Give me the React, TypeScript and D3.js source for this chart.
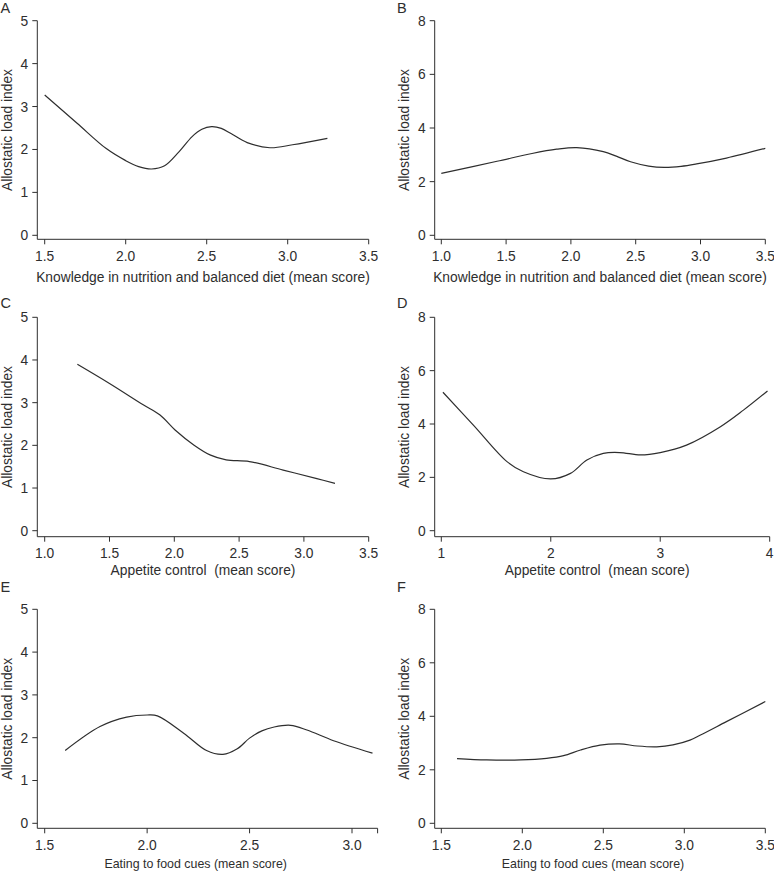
import React from "react";
import * as d3 from "d3";

// ---------- data ----------
const aX = [1.5, 1.7, 1.88, 2.0, 2.08, 2.16, 2.24, 2.33, 2.41, 2.47, 2.53, 2.59, 2.65, 2.75, 2.89, 3.03, 3.245];
const aY = [3.27, 2.61, 2.02, 1.74, 1.6, 1.545, 1.62, 1.95, 2.3, 2.47, 2.53, 2.49, 2.37, 2.16, 2.04, 2.11, 2.26];

const bX = [1.0, 1.43, 1.7, 1.89, 2.045, 2.25, 2.35, 2.46, 2.6, 2.72, 2.85, 2.97, 3.2, 3.5];
const bY = [2.31, 2.76, 3.05, 3.21, 3.27, 3.12, 2.95, 2.74, 2.58, 2.53, 2.57, 2.66, 2.88, 3.24];

const cX = [1.252, 1.5, 1.76, 1.89, 2.006, 2.15, 2.28, 2.4, 2.58, 2.84, 3.1, 3.24];
const cY = [3.9, 3.45, 2.95, 2.71, 2.36, 2.01, 1.77, 1.66, 1.62, 1.42, 1.22, 1.11];

const dX = [1.015, 1.295, 1.6, 1.75, 2.0, 2.18, 2.33, 2.48, 2.63, 2.82, 3.0, 3.24, 3.55, 3.76, 3.98];
const dY = [5.19, 3.95, 2.59, 2.21, 1.94, 2.15, 2.65, 2.9, 2.93, 2.84, 2.93, 3.21, 3.9, 4.52, 5.24];

const eX = [1.6, 1.77, 1.9, 2.0, 2.05, 2.18, 2.29, 2.37, 2.44, 2.5, 2.56, 2.62, 2.7, 2.78, 2.91, 3.1];
const eY = [1.7, 2.26, 2.48, 2.53, 2.51, 2.1, 1.7, 1.61, 1.74, 1.99, 2.16, 2.25, 2.29, 2.18, 1.93, 1.64];

const fX = [1.597, 1.78, 1.99, 2.15, 2.255, 2.36, 2.48, 2.6, 2.71, 2.83, 2.93, 3.035, 3.1, 3.26, 3.5];
const fY = [2.42, 2.37, 2.37, 2.43, 2.53, 2.74, 2.92, 2.97, 2.89, 2.86, 2.93, 3.11, 3.3, 3.8, 4.55];

const xTicksHalf = [1.5, 2.0, 2.5, 3.0, 3.5];
const xTicksOne = [1.0, 1.5, 2.0, 2.5, 3.0, 3.5];
const xTicksInt = [1, 2, 3, 4];
const xTicksE = [1.5, 2.0, 2.5, 3.0];
const yTicks5 = [0, 1, 2, 3, 4, 5];
const yTicks8 = [0, 2, 4, 6, 8];

const titleKnowledge = "Knowledge in nutrition and balanced diet (mean score)";
const titleAppetite = "Appetite control  (mean score)";
const titleCues = "Eating to food cues (mean score)";
const yTitle = "Allostatic load index";

// ---------- layout ----------
const W = 774;
const H = 871;
const FONT = "'Liberation Sans', Arial, Helvetica, sans-serif";
const INK = "#2e2e2e";
const FS = 13.8;

const cols = [
  { axisX: 37.3, x0: 44.7, x1: 368.7, letterX: 0.5 },
  { axisX: 434.7, x0: 441.3, x1: 765.3, letterX: 397 },
];
const rows = [
  { yTop: 20.7, yZero: 235.3, axisY: 239.3, titleOff: 42.3, letterY: 13.2 },
  { yTop: 317.3, yZero: 530.7, axisY: 536.7, titleOff: 38.5, letterY: 308.3 },
  { yTop: 609.3, yZero: 823.3, axisY: 828.3, titleOff: 40, letterY: 592 },
];

type Panel = {
  letter: string;
  row: number;
  col: number;
  xs: number[];
  ys: number[];
  xDomain: [number, number];
  xEndPx?: number;
  axisEnd?: number;
  xTicks: number[];
  fmt: (v: number) => string;
  yMax: number;
  yTicks: number[];
  xTitle: string;
  titleFs?: number;
  titleShift?: number;
};

const f1 = d3.format(".1f");
const f0 = d3.format("d");

const panels: Panel[] = [
  { letter: "A", row: 0, col: 0, xs: aX, ys: aY, xDomain: [1.5, 3.5], xTicks: xTicksHalf, fmt: f1, yMax: 5, yTicks: yTicks5, xTitle: titleKnowledge },
  { letter: "B", row: 0, col: 1, xs: bX, ys: bY, xDomain: [1.0, 3.5], xTicks: xTicksOne, fmt: f1, yMax: 8, yTicks: yTicks8, xTitle: titleKnowledge },
  { letter: "C", row: 1, col: 0, xs: cX, ys: cY, xDomain: [1.0, 3.5], xTicks: xTicksOne, fmt: f1, yMax: 5, yTicks: yTicks5, xTitle: titleAppetite },
  { letter: "D", row: 1, col: 1, xs: dX, ys: dY, xDomain: [1, 4], xEndPx: 769.7, xTicks: xTicksInt, fmt: f0, yMax: 8, yTicks: yTicks8, xTitle: titleAppetite, titleShift: -5 },
  { letter: "E", row: 2, col: 0, xs: eX, ys: eY, xDomain: [1.5, 3.0], xEndPx: 352, axisEnd: 3.125, xTicks: xTicksE, fmt: f1, yMax: 5, yTicks: yTicks5, xTitle: titleCues, titleFs: 12.4, titleShift: 1 },
  { letter: "F", row: 2, col: 1, xs: fX, ys: fY, xDomain: [1.5, 3.5], xTicks: xTicksHalf, fmt: f1, yMax: 8, yTicks: yTicks8, xTitle: titleCues, titleFs: 12.4, titleShift: -7 },
];

function PanelView({ p }: { p: Panel }) {
  const c = cols[p.col];
  const r = rows[p.row];
  const x = d3.scaleLinear().domain(p.xDomain).range([c.x0, p.xEndPx ?? c.x1]);
  const y = d3.scaleLinear().domain([0, p.yMax]).range([r.yZero, r.yTop]);
  const pts = p.xs.map((v, i) => [v, p.ys[i]] as [number, number]);
  const line = d3
    .line<[number, number]>()
    .x((d) => x(d[0]))
    .y((d) => y(d[1]))
    .curve(d3.curveCatmullRom.alpha(0.5));
  const axisEndPx = p.axisEnd !== undefined ? x(p.axisEnd) : x(p.xDomain[1]);
  const extraTicks = p.axisEnd !== undefined ? [p.axisEnd] : [];
  const lastTickPx = x(p.xTicks[p.xTicks.length - 1]);
  const titleX = (c.axisX + lastTickPx) / 2 + (p.titleShift ?? 0);
  const yMid = (y(p.yMax) + r.axisY) / 2;
  return (
    <g>
      <text x={c.letterX} y={r.letterY} fontSize={14.5} fill={INK} fontFamily={FONT}>
        {p.letter}
      </text>
      {/* y axis */}
      <line x1={c.axisX} x2={c.axisX} y1={y(p.yMax)} y2={r.axisY} stroke={INK} strokeWidth={1} />
      {p.yTicks.map((t) => (
        <g key={"y" + t}>
          <line x1={c.axisX - 5} x2={c.axisX} y1={y(t)} y2={y(t)} stroke={INK} strokeWidth={1} />
          <text x={c.axisX - 9} y={y(t)} dy="0.36em" textAnchor="end" fontSize={FS} fill={INK} fontFamily={FONT}>
            {f0(t)}
          </text>
        </g>
      ))}
      <text
        transform={`translate(${c.axisX - 25.5},${yMid}) rotate(-90)`}
        textAnchor="middle"
        fontSize={FS}
        fill={INK}
        fontFamily={FONT}
      >
        {yTitle}
      </text>
      {/* x axis */}
      <line x1={c.axisX} x2={axisEndPx} y1={r.axisY} y2={r.axisY} stroke={INK} strokeWidth={1} />
      {p.xTicks.map((t) => (
        <g key={"x" + t}>
          <line x1={x(t)} x2={x(t)} y1={r.axisY} y2={r.axisY + 5} stroke={INK} strokeWidth={1} />
          <text x={x(t)} y={r.axisY + 21.5} textAnchor="middle" fontSize={FS} fill={INK} fontFamily={FONT}>
            {p.fmt(t)}
          </text>
        </g>
      ))}
      {extraTicks.map((t) => (
        <line key={"e" + t} x1={x(t)} x2={x(t)} y1={r.axisY} y2={r.axisY + 5} stroke={INK} strokeWidth={1} />
      ))}
      <text
        x={titleX}
        y={r.axisY + r.titleOff}
        textAnchor="middle"
        fontSize={p.titleFs ?? FS}
        fill={INK}
        fontFamily={FONT}
        style={{ whiteSpace: "pre" }}
      >
        {p.xTitle}
      </text>
      <path d={line(pts) ?? ""} fill="none" stroke={INK} strokeWidth={1.2} />
    </g>
  );
}

export default function App() {
  return (
    <svg
      width={W}
      height={H}
      viewBox={`0 0 ${W} ${H}`}
      style={{ position: "absolute", left: 0, top: 0, background: "#fff" }}
    >
      <rect x={0} y={0} width={W} height={H} fill="#fff" />
      {panels.map((p) => (
        <PanelView key={p.letter} p={p} />
      ))}
    </svg>
  );
}
